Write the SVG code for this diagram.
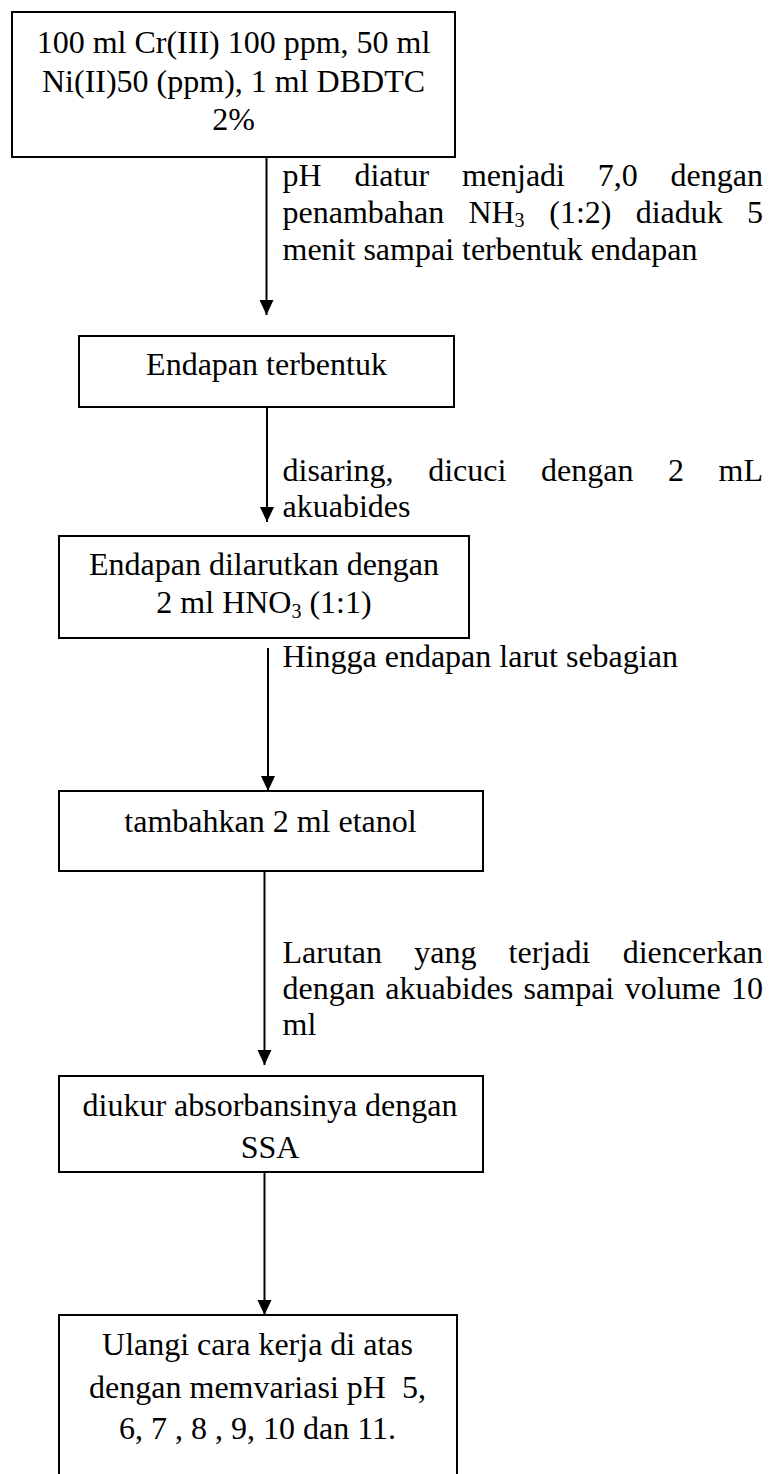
<svg xmlns="http://www.w3.org/2000/svg" width="771" height="1474" viewBox="0 0 771 1474">
<style>
  .box { fill: #ffffff; stroke: #000000; stroke-width: 2; }
  .t { font-family: "Liberation Serif", "Times New Roman", serif; font-size: 32px; fill: #000000; }
  .c { text-anchor: middle; }
  .e { text-anchor: end; }
  .sub { font-size: 20px; }
  .conn { stroke: #000000; stroke-width: 2; fill: none; marker-end: url(#ah); }
</style>
<defs>
  <marker id="ah" markerUnits="userSpaceOnUse" markerWidth="14" markerHeight="15" refX="15" refY="7" orient="auto">
    <path d="M0,0 L15,7 L0,14 Z" fill="#000000"/>
  </marker>
</defs>
<rect width="771" height="1474" fill="#ffffff"/>

<g id="connectors">
  <line class="conn" x1="266.5" y1="157" x2="266.5" y2="315"/>
  <line class="conn" x1="267" y1="407" x2="267" y2="522"/>
  <line class="conn" x1="268" y1="648" x2="268" y2="791"/>
  <line class="conn" x1="264.5" y1="871" x2="264.5" y2="1065"/>
  <line class="conn" x1="264.5" y1="1172" x2="264.5" y2="1315"/>
</g>

<g id="labels">
  <text class="t" y="186"><tspan x="282.5">pH</tspan><tspan x="354.4">diatur</tspan><tspan x="461.9">menjadi</tspan><tspan x="597.8">7,0</tspan></text>
  <text class="t e" x="763" y="186">dengan</text>
  <text class="t" y="223"><tspan x="282.5">penambahan</tspan><tspan x="468.4">NH</tspan><tspan class="sub" dy="4">3</tspan><tspan x="549.3" dy="-4">(1:2)</tspan><tspan x="635.7">diaduk</tspan></text>
  <text class="t e" x="763" y="223">5</text>
  <text class="t" x="282.5" y="260">menit sampai terbentuk endapan</text>

  <text class="t" y="481"><tspan x="282.5">disaring,</tspan><tspan x="428.2">dicuci</tspan><tspan x="541">dengan</tspan><tspan x="668">2</tspan></text>
  <text class="t e" x="763" y="481">mL</text>
  <text class="t" x="282.5" y="517">akuabides</text>

  <text class="t" x="282.5" y="667">Hingga endapan larut sebagian</text>

  <text class="t" y="963"><tspan x="282.5">Larutan</tspan><tspan x="414.2">yang</tspan><tspan x="508.6">terjadi</tspan></text>
  <text class="t e" x="763" y="963">diencerkan</text>
  <text class="t" y="999"><tspan x="282.5">dengan</tspan><tspan x="385.3">akuabides</tspan><tspan x="523.6">sampai</tspan><tspan x="624.7">volume</tspan></text>
  <text class="t e" x="763" y="999">10</text>
  <text class="t" x="282.5" y="1035">ml</text>
</g>

<g id="n1">
  <rect class="box" x="12" y="12" width="443" height="145"/>
  <text class="t c" x="233.5" y="53">100 ml Cr(III) 100 ppm, 50 ml</text>
  <text class="t c" x="233.5" y="92">Ni(II)50 (ppm), 1 ml DBDTC</text>
  <text class="t c" x="233.5" y="130">2%</text>
</g>

<g id="n2">
  <rect class="box" x="79" y="336" width="375" height="71"/>
  <text class="t c" x="266.5" y="375">Endapan terbentuk</text>
</g>

<g id="n3">
  <rect class="box" x="59" y="536" width="410" height="102"/>
  <text class="t c" x="264" y="575">Endapan dilarutkan dengan</text>
  <text class="t c" x="264" y="613">2 ml HNO<tspan class="sub" dy="5">3</tspan><tspan dy="-5"> (1:1)</tspan></text>
</g>

<g id="n4">
  <rect class="box" x="59" y="791" width="424" height="80"/>
  <text class="t c" x="270.5" y="832">tambahkan 2 ml etanol</text>
</g>

<g id="n5">
  <rect class="box" x="59" y="1076" width="424" height="96"/>
  <text class="t c" x="270" y="1116">diukur absorbansinya dengan</text>
  <text class="t c" x="270" y="1158">SSA</text>
</g>

<g id="n6">
  <rect class="box" x="59" y="1315" width="398" height="180"/>
  <text class="t c" x="257.5" y="1355">Ulangi cara kerja di atas</text>
  <text class="t c" x="257.5" y="1398">dengan memvariasi pH&#160; 5,</text>
  <text class="t c" x="257.5" y="1439">6, 7 , 8 , 9, 10 dan 11.</text>
</g>
</svg>
